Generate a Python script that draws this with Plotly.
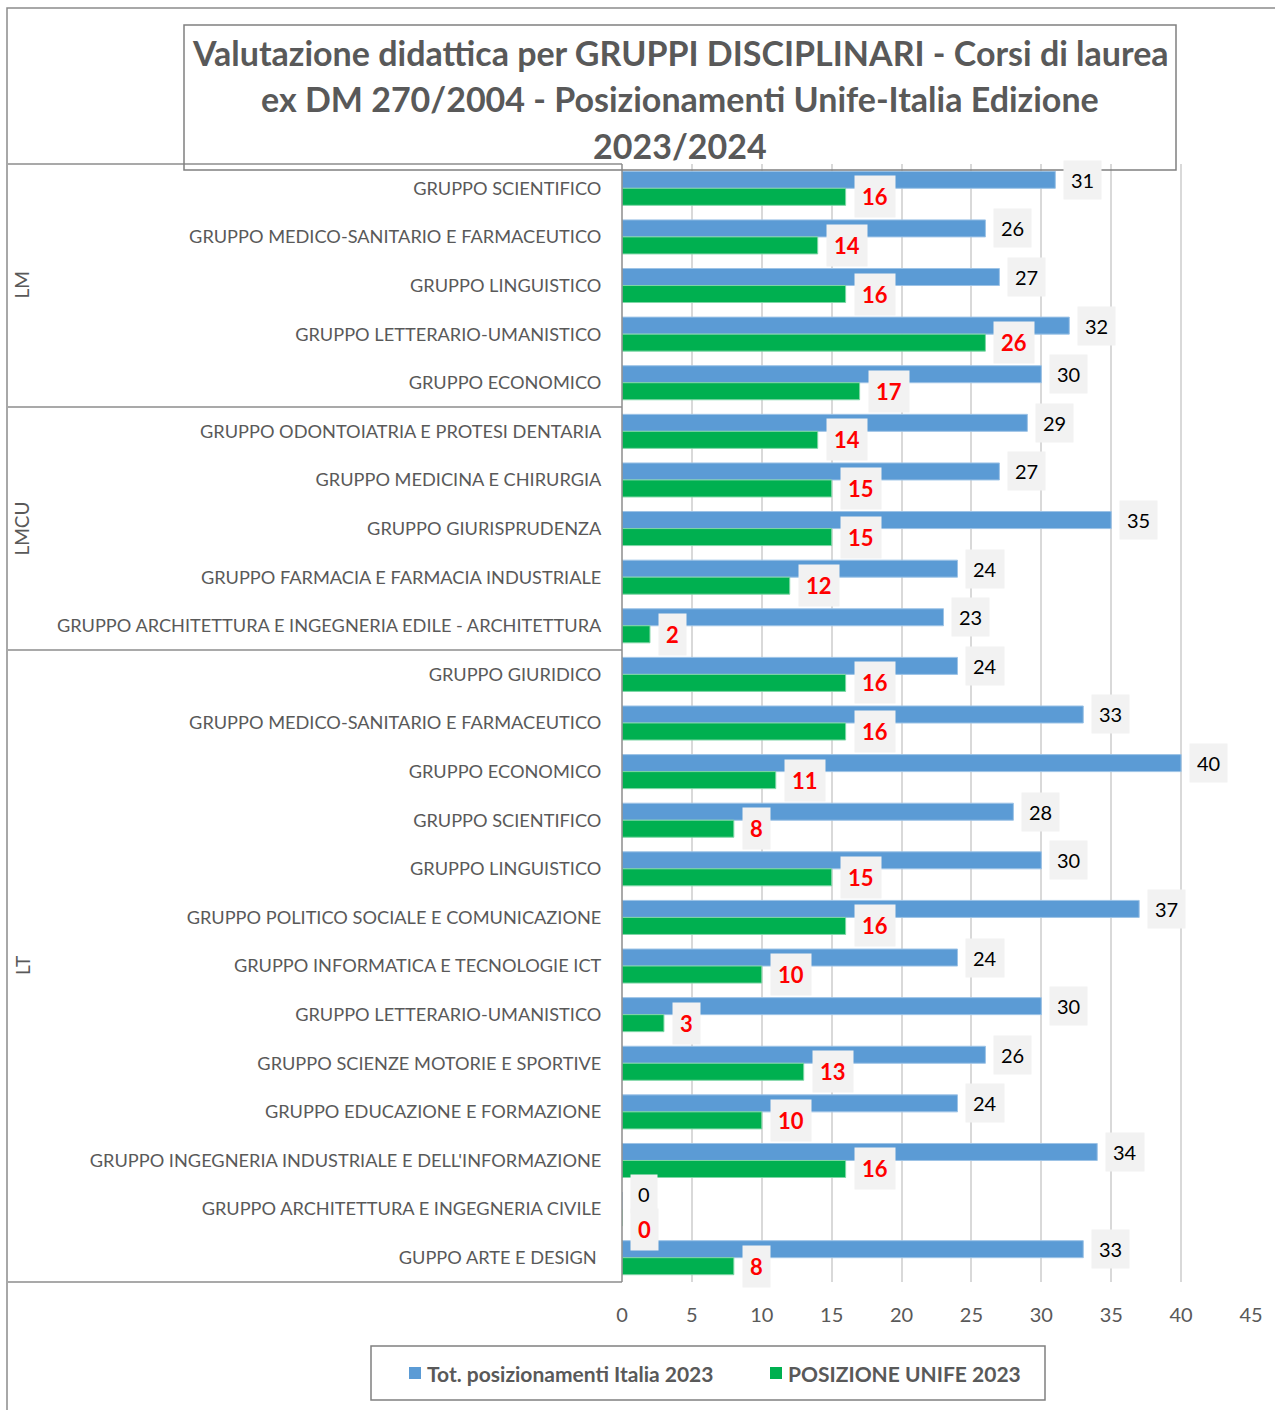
import plotly.graph_objects as go

# ---- data ----
groups = ["LM", "LMCU", "LT"]
group_sizes = [5, 5, 13]
categories = [
    "GRUPPO SCIENTIFICO",
    "GRUPPO MEDICO-SANITARIO E FARMACEUTICO",
    "GRUPPO LINGUISTICO",
    "GRUPPO LETTERARIO-UMANISTICO",
    "GRUPPO ECONOMICO",
    "GRUPPO ODONTOIATRIA E PROTESI DENTARIA",
    "GRUPPO MEDICINA E CHIRURGIA",
    "GRUPPO GIURISPRUDENZA",
    "GRUPPO FARMACIA E FARMACIA INDUSTRIALE",
    "GRUPPO ARCHITETTURA E INGEGNERIA EDILE - ARCHITETTURA",
    "GRUPPO GIURIDICO",
    "GRUPPO MEDICO-SANITARIO E FARMACEUTICO",
    "GRUPPO ECONOMICO",
    "GRUPPO SCIENTIFICO",
    "GRUPPO LINGUISTICO",
    "GRUPPO POLITICO SOCIALE E COMUNICAZIONE",
    "GRUPPO INFORMATICA E TECNOLOGIE ICT",
    "GRUPPO LETTERARIO-UMANISTICO",
    "GRUPPO SCIENZE MOTORIE E SPORTIVE",
    "GRUPPO EDUCAZIONE E FORMAZIONE",
    "GRUPPO INGEGNERIA INDUSTRIALE E DELL'INFORMAZIONE",
    "GRUPPO ARCHITETTURA E INGEGNERIA CIVILE",
    "GUPPO ARTE E DESIGN ",
]
tot_italia = [31, 26, 27, 32, 30, 29, 27, 35, 24, 23, 24, 33, 40, 28, 30, 37, 24, 30, 26, 24, 34, 0, 33]
pos_unife = [16, 14, 16, 26, 17, 14, 15, 15, 12, 2, 16, 16, 11, 8, 15, 16, 10, 3, 13, 10, 16, 0, 8]
series_names = ["Tot. posizionamenti Italia 2023", "POSIZIONE UNIFE 2023"]
series_colors = ["#5b9bd5", "#00b050"]
x_ticks = [0, 5, 10, 15, 20, 25, 30, 35, 40, 45]
title_lines = [
    "Valutazione didattica per GRUPPI DISCIPLINARI - Corsi di laurea",
    "ex DM 270/2004 - Posizionamenti Unife-Italia Edizione",
    "2023/2024",
]

# ---- layout geometry (pixels) ----
W, H = 1275, 1410
L, R, T, B = 622, 1251, 164, 1282
FONT = "Lato"
GRAY = "#595959"


def px(xp):
    return (xp - L) / (R - L)


def py(yp):
    return (B - yp) / (B - T)


pos = list(range(len(categories)))

fig = go.Figure()
fig.add_trace(go.Bar(
    y=pos, x=tot_italia, orientation="h", name=series_names[0],
    marker=dict(color=series_colors[0], line=dict(color="#9dc3e6", width=1)),
    hoverinfo="x",
))
fig.add_trace(go.Bar(
    y=pos, x=pos_unife, orientation="h", name=series_names[1],
    marker=dict(color=series_colors[1], line=dict(color="#7fd6a6", width=1)),
    hoverinfo="x",
))

# data labels in grey boxes (pushed apart when both labels share the same x)
for i in pos:
    off_top, off_bot = -0.175, 0.175
    if abs(tot_italia[i] - pos_unife[i]) < 3:
        off_top, off_bot = -0.31, 0.43
    fig.add_annotation(
        x=tot_italia[i], y=i + off_top, xref="x", yref="y", text=str(tot_italia[i]),
        showarrow=False, xanchor="left", xshift=8, bgcolor="#f2f2f2", borderpad=7,
        font=dict(family=FONT, size=20, color="black"),
    )
    fig.add_annotation(
        x=pos_unife[i], y=i + off_bot, xref="x", yref="y", text="<b>%d</b>" % pos_unife[i],
        showarrow=False, xanchor="left", xshift=8, bgcolor="#f2f2f2", borderpad=7,
        font=dict(family=FONT, size=22, color="#ff0000"),
    )

# title
for k, line in enumerate(title_lines):
    fig.add_annotation(
        x=px(680), y=py(53 + 46 * k), xref="paper", yref="paper", text="<b>%s</b>" % line,
        showarrow=False, xanchor="center", yanchor="middle",
        font=dict(family=FONT, size=34, color=GRAY),
    )

# category table lines and group labels
line_style = dict(color="#8c8c8c", width=1.5)
row_h = (B - T) / len(categories)
start = 0
boundaries = [T]
for g, n in zip(groups, group_sizes):
    mid = T + row_h * (start + n / 2)
    fig.add_annotation(
        x=px(22), y=py(mid), xref="paper", yref="paper", text=g, textangle=-90,
        xanchor="center", yanchor="middle",
        showarrow=False, font=dict(family=FONT, size=19, color=GRAY),
    )
    start += n
    boundaries.append(T + row_h * start)
for yb in boundaries:
    fig.add_shape(type="line", xref="paper", yref="paper",
                  x0=px(8), x1=px(L), y0=py(yb), y1=py(yb), line=line_style)
fig.add_shape(type="line", xref="paper", yref="paper",
              x0=0, x1=0, y0=0, y1=1, line=line_style)

# outer chart frame and title box
fig.add_shape(type="rect", xref="paper", yref="paper",
              x0=px(7), x1=px(1290), y0=py(8), y1=py(1430),
              line=dict(color="#8c8c8c", width=1.5))
fig.add_shape(type="rect", xref="paper", yref="paper",
              x0=px(184), x1=px(1176), y0=py(25), y1=py(170),
              line=dict(color="#808080", width=1.5))

# legend box drawn by hand (keeps both entries on one row)
fig.add_shape(type="rect", xref="paper", yref="paper",
              x0=px(371), x1=px(1045), y0=py(1346), y1=py(1400),
              line=dict(color="#808080", width=1.5), fillcolor="white")
for name, color, x_sq in zip(series_names, series_colors, [409, 770]):
    fig.add_shape(type="rect", xref="paper", yref="paper",
                  x0=px(x_sq), x1=px(x_sq + 12), y0=py(1367), y1=py(1379),
                  line=dict(width=0), fillcolor=color)
    fig.add_annotation(
        x=px(x_sq + 16), y=py(1373), xref="paper", yref="paper", text="<b>%s</b>" % name,
        showarrow=False, xanchor="left", yanchor="middle",
        font=dict(family=FONT, size=21, color=GRAY),
    )

fig.update_layout(
    width=W, height=H,
    margin=dict(l=L, r=W - R, t=T, b=H - B, autoexpand=False),
    barmode="group", bargap=0.3, bargroupgap=0,
    plot_bgcolor="white", paper_bgcolor="white",
    font=dict(family=FONT, color=GRAY),
    showlegend=False,
    xaxis=dict(
        range=[0, 45], tickvals=x_ticks, showgrid=True, gridcolor="#d9d9d9", gridwidth=1.5,
        zeroline=False, showline=False, ticks="outside", ticklen=15,
        tickcolor="rgba(0,0,0,0)", tickfont=dict(family=FONT, size=20, color=GRAY),
        fixedrange=True,
    ),
    yaxis=dict(
        range=[len(categories) - 0.5, -0.5], tickvals=pos, ticktext=categories,
        showgrid=False, zeroline=False, ticks="outside", ticklen=16,
        tickcolor="rgba(0,0,0,0)", tickfont=dict(family=FONT, size=18.2, color=GRAY),
        fixedrange=True,
    ),
)

fig.write_html(
    "out.html",
    config={"displayModeBar": False},
    post_script="document.body.style.margin='0';document.body.style.overflow='hidden';",
)
